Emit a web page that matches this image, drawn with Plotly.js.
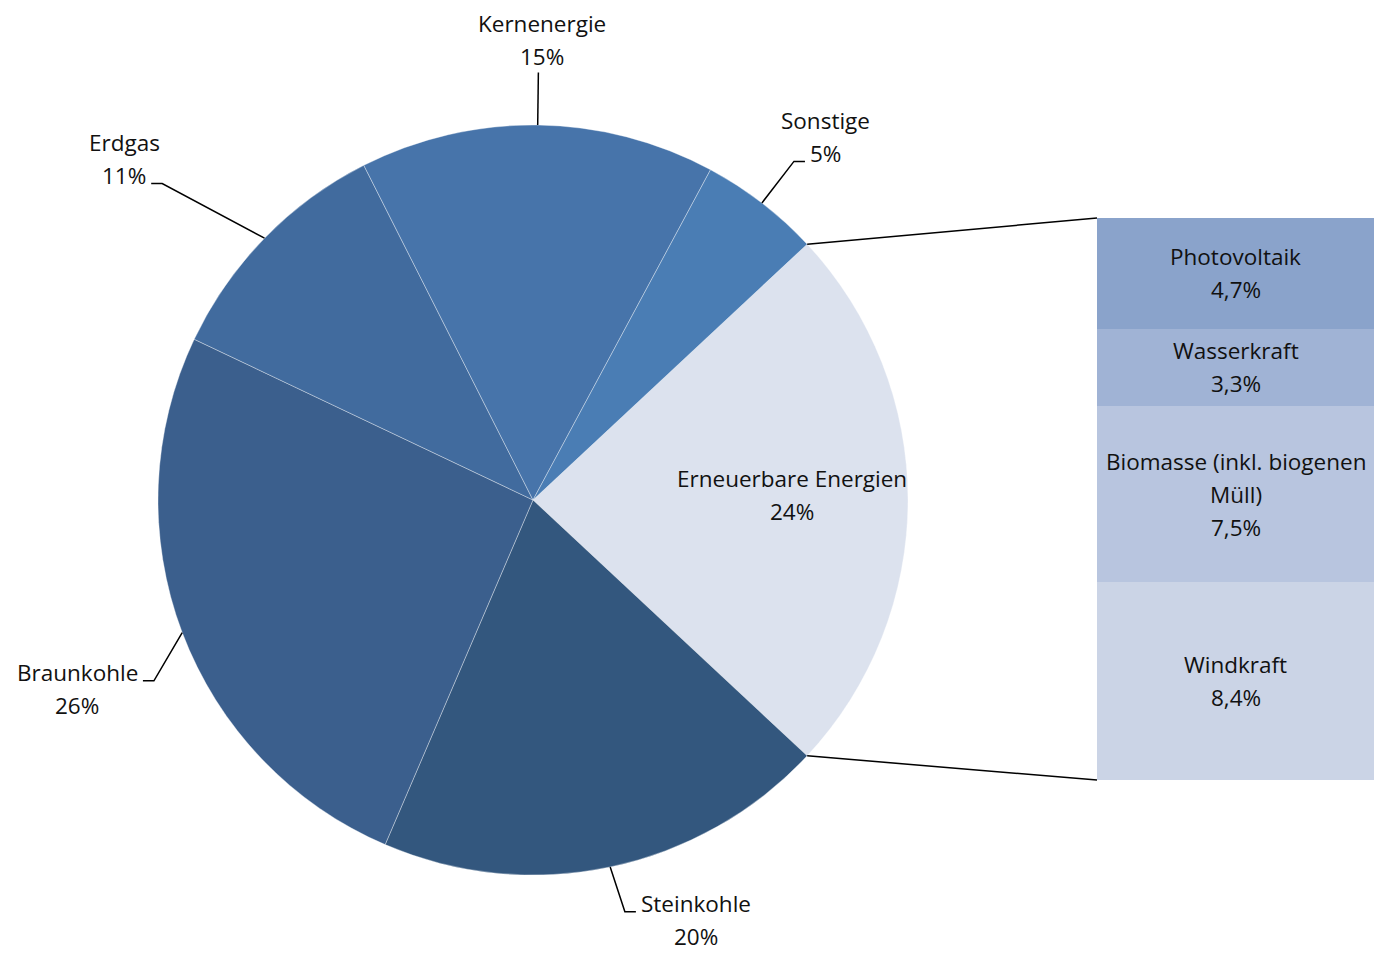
<!DOCTYPE html>
<html><head><meta charset="utf-8">
<script src="https://cdn.plot.ly/plotly-3.0.1.min.js"></script>
<style>html,body{margin:0;padding:0;background:#fff}#chart{width:1374px;height:954px}</style>
</head><body><div id="chart"></div>
<script>
// ---- data ----
const pieLabels = ['Erneuerbare Energien', 'Steinkohle', 'Braunkohle', 'Erdgas', 'Kernenergie', 'Sonstige'];
const pieValues = [23.9, 19.5, 25.6, 10.5, 15.3, 5.2];
// breakdown of renewables, top to bottom as stacked in the bar
const subLabels = ['Photovoltaik', 'Wasserkraft', 'Biomasse (inkl. biogenen<br>Müll)', 'Windkraft'];
const subValues = [4.7, 3.3, 7.5, 8.4];

// ---- style ----
const pieColors = ['#dce2ee', '#33577e', '#3b5f8d', '#416b9e', '#4774aa', '#4a7db4'];
const subColors = ['#8aa3cb', '#a0b3d5', '#b8c5df', '#cbd4e6'];
const W = 1374, H = 954;
const FONT = 'Open Sans, sans-serif';
const FS = 22.5, LH = 33, TXT = '#111';
const PIE = {cx: 533, cy: 500, r: 375};
const BAR = {x0: 1097, x1: 1374, y0: 218, y1: 780};
const leaderStyle = {
  def: {k: 1.14, dA: 0},
  'Erdgas': {k: 1.30, dA: -3.8},
  'Braunkohle': {k: 1.12, dA: -4.8},
  'Steinkohle': {k: 1.125, dA: -0.7}
};
const insideIdx = 0, insideR = 0.69, insideDy = -5;

// ---- helpers ----
const ctx = document.createElement('canvas').getContext('2d');
ctx.font = FS + 'px "Open Sans"';
const tw = s => ctx.measureText(s).width;
const px = x => x / W, py = y => 1 - y / H;
const rad = d => d * Math.PI / 180;
const pctPie = v => Math.round(v) + '%';
const pctSub = v => v.toFixed(1).replace('.', ',') + '%';

const annotations = [];
const shapes = [];
function addLines(lines, cxp, cyp) { // centre of block in px
  const n = lines.length;
  lines.forEach((t, j) => {
    annotations.push({xref: 'paper', yref: 'paper', x: px(cxp), y: py(cyp + (j - (n - 1) / 2) * LH),
      xanchor: 'center', yanchor: 'middle', showarrow: false, text: t, borderpad: 0,
      font: {family: FONT, size: FS, color: TXT}});
  });
}

// ---- pie geometry ----
const total = pieValues.reduce((a, b) => a + b, 0);
const startAngle = -360 * pieValues[0] / total / 2; // screen deg, clockwise from 3 o'clock
let acc = startAngle;
const mids = pieValues.map(v => { const a = acc + 360 * v / total / 2; acc += 360 * v / total; return a; });

pieLabels.forEach((lab, i) => {
  const m = mids[i];
  const lines = [lab, pctPie(pieValues[i])];
  if (i === insideIdx) {
    addLines(lines, PIE.cx + PIE.r * insideR * Math.cos(rad(m)), PIE.cy + PIE.r * insideR * Math.sin(rad(m)) + insideDy);
    return;
  }
  const st = leaderStyle[lab] || leaderStyle.def;
  const s = [PIE.cx + PIE.r * Math.cos(rad(m)), PIE.cy + PIE.r * Math.sin(rad(m))];
  const ma = m + st.dA;
  const e = [PIE.cx + PIE.r * st.k * Math.cos(rad(ma)), PIE.cy + PIE.r * st.k * Math.sin(rad(ma))];
  const c = Math.cos(rad(ma)), sn = Math.sin(rad(ma));
  let path;
  if (Math.abs(c) < 0.1) {
    path = `M${px(s[0])},${py(s[1])} L${px(e[0])},${py(e[1])}`;
    if (sn < 0) addLines(lines, e[0] + 4, e[1] - 16 - LH / 2);
    else addLines(lines, e[0] + 4, e[1] + 16 + LH / 2);
  } else {
    const dir = c > 0 ? 1 : -1;
    const endX = e[0] + dir * 11;
    path = `M${px(s[0])},${py(s[1])} L${px(e[0])},${py(e[1])} L${px(endX)},${py(e[1])}`;
    const upper = sn < 0;
    const att = upper ? lines[1] : lines[0];
    const bx = endX + dir * (5 + tw(att) / 2);
    const attY = e[1] - 8;
    const blockCy = upper ? attY - LH / 2 : attY + LH / 2;
    addLines(lines, bx, blockCy);
  }
  shapes.push({type: 'path', xref: 'paper', yref: 'paper', path: path, line: {color: '#000', width: 1.5}});
});

// connectors pie -> bar
const a0 = startAngle, a1 = startAngle + 360 * pieValues[0] / total;
const p0 = [PIE.cx + PIE.r * Math.cos(rad(a0)), PIE.cy + PIE.r * Math.sin(rad(a0))];
const p1 = [PIE.cx + PIE.r * Math.cos(rad(a1)), PIE.cy + PIE.r * Math.sin(rad(a1))];
shapes.push({type: 'line', xref: 'paper', yref: 'paper', x0: px(p0[0]), y0: py(p0[1]), x1: px(BAR.x0), y1: py(BAR.y0), line: {color: '#000', width: 1.5}});
shapes.push({type: 'line', xref: 'paper', yref: 'paper', x0: px(p1[0]), y0: py(p1[1]), x1: px(BAR.x0), y1: py(BAR.y1), line: {color: '#000', width: 1.5}});

// ---- traces ----
const traces = [{
  type: 'pie', labels: pieLabels, values: pieValues, sort: false, direction: 'clockwise',
  rotation: startAngle + 90,
  marker: {colors: pieColors, line: {color: 'rgba(255,255,255,0.35)', width: 1}},
  textinfo: 'none', hoverinfo: 'label+percent', showlegend: false,
  domain: {x: [px(PIE.cx - PIE.r), px(PIE.cx + PIE.r)], y: [py(PIE.cy + PIE.r), py(PIE.cy - PIE.r)]}
}];
const subTotal = subValues.reduce((a, b) => a + b, 0);
let base = 0;
for (let i = subValues.length - 1; i >= 0; i--) {
  traces.push({type: 'bar', x: [0], y: [subValues[i]], width: 1, name: subLabels[i],
    marker: {color: subColors[i], line: {width: 0}}, showlegend: false, hoverinfo: 'name+y'});
  const lines = subLabels[i].split('<br>').concat([pctSub(subValues[i])]);
  const n = lines.length;
  const mid = base + subValues[i] / 2;
  lines.forEach((t, j) => {
    annotations.push({xref: 'x', yref: 'y', x: 0, y: mid, yshift: ((n - 1) / 2 - j) * LH,
      xanchor: 'center', yanchor: 'middle', showarrow: false, text: t,
      font: {family: FONT, size: FS, color: TXT}});
  });
  base += subValues[i];
}

const layout = {
  width: W, height: H, margin: {l: 0, r: 0, t: 0, b: 0},
  paper_bgcolor: '#fff', plot_bgcolor: 'rgba(0,0,0,0)', showlegend: false,
  barmode: 'stack', bargap: 0,
  font: {family: FONT, size: FS, color: TXT},
  xaxis: {domain: [px(BAR.x0), px(BAR.x1)], range: [-0.5, 0.5], visible: false, fixedrange: true},
  yaxis: {domain: [py(BAR.y1), py(BAR.y0)], range: [0, subTotal], visible: false, fixedrange: true},
  annotations: annotations, shapes: shapes
};
Plotly.newPlot('chart', traces, layout, {displayModeBar: false, responsive: false});
</script></body></html>
